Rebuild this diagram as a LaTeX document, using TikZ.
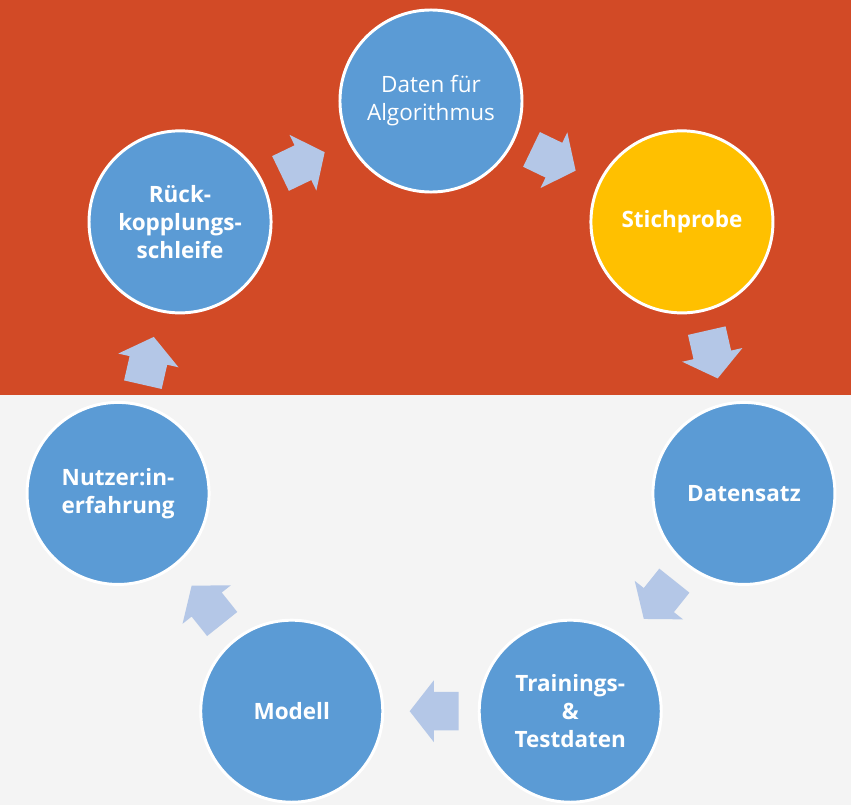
\documentclass[tikz,border=0pt]{standalone}
\usepackage{fontspec}
\setmainfont{Open Sans}
\usetikzlibrary{shapes.arrows}

\definecolor{ringred}{HTML}{D24A26}
\definecolor{ringgrey}{HTML}{F4F4F4}
\definecolor{stageblue}{HTML}{5B9BD5}
\definecolor{stagegold}{HTML}{FFC000}
\definecolor{flowblue}{HTML}{B4C7E7}

\begin{document}
\begin{tikzpicture}[x=0.025cm, y=-0.025cm]
	\tikzstyle{stage} = [circle, draw=white, line width=2.1pt, fill=stageblue,
	text=white, font=\bfseries\fontsize{16}{20}\selectfont, align=center,
	minimum size=4.55cm, inner sep=0pt]
	\tikzstyle{flow} = [single arrow, fill=flowblue, draw=none, sloped, allow upside down,
	pos=0.385, minimum height=1.225cm, inner xsep=0pt, inner ysep=0.475cm,
	single arrow head extend=0.29cm, single arrow tip angle=104]
	% Background
	\useasboundingbox (-431,-422) rectangle (420,383);
	\fill[ringred] (-431,-422) rectangle (420,-27);
	\fill[ringgrey] (-431,-27) rectangle (420,383);
	% Place nodes
	\node [stage, font=\fontsize{16}{20}\selectfont] (daten) at (-90:321) {Daten für\\Algorithmus};
	\node [stage, fill=stagegold] (stich) at (-38.57:321) {Stichprobe};
	\node [stage] (satz) at (12.86:321) {Datensatz};
	\node [stage] (train) at (64.29:321) {Trainings-\\\&\\Testdaten};
	\node [stage] (modell) at (115.71:321) {Modell};
	\node [stage] (nutzer) at (167.14:321) {Nutzer:in-\\erfahrung};
	\node [stage] (rueck) at (218.57:321) {Rück-\\kopplungs-\\schleife};
	% Draw arrows
	\path (daten) -- node [flow] {} (stich);
	\path (stich) -- node [flow] {} (satz);
	\path (satz) -- node [flow] {} (train);
	\path (train) -- node [flow] {} (modell);
	\path (modell) -- node [flow] {} (nutzer);
	\path (nutzer) -- node [flow] {} (rueck);
	\path (rueck) -- node [flow] {} (daten);
\end{tikzpicture}
\end{document}
